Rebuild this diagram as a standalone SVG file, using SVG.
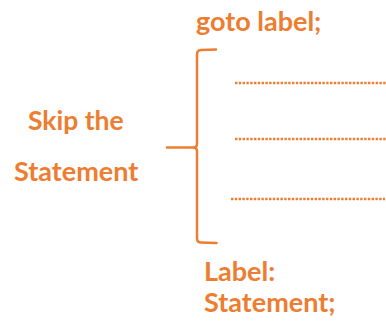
<svg xmlns="http://www.w3.org/2000/svg" width="386" height="322" viewBox="0 0 386 322">
<style>
.t{font-family:Lato,"Open Sans","Liberation Sans",sans-serif;font-weight:bold;fill:#ED7D31;font-size:27px}
.dot{stroke:#ED7D31;stroke-width:2.6;stroke-dasharray:2.4 1.4;fill:none}
.br{stroke:#ED7D31;stroke-width:2.5;fill:none;stroke-linecap:round;stroke-linejoin:round}
</style>
<rect width="386" height="322" fill="#fff"/>
<g id="goto"><text class="t" x="196" y="31" font-size="27.5">goto label;</text></g>
<g id="skip"><text class="t" x="28" y="130" style="font-size:26.5px">Skip the</text><text class="t" x="14" y="181">Statement</text></g>
<g id="brace"><path class="br" d="M216,49.5 L201,50 Q197,50.5 197,54 L197,144 Q197,147.5 193,147.5 L167,147.5 M193,147.5 Q197,147.5 197,151 L197,238 Q197,242.5 201,242.5 L216.5,243"/></g>
<g id="lines">
<line class="dot" x1="235" y1="83" x2="386" y2="83"/>
<line class="dot" x1="235" y1="139" x2="386" y2="139"/>
<line class="dot" x1="231" y1="199" x2="385" y2="199"/>
</g>
<g id="label"><text class="t" x="204" y="281">Label:</text><text class="t" x="204" y="312">Statement;</text></g>
</svg>
